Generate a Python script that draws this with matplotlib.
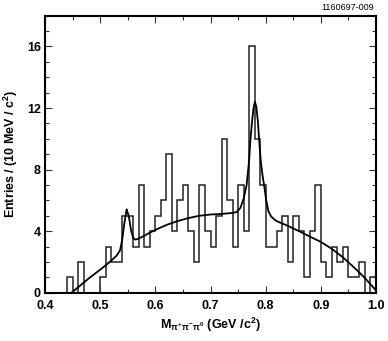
import matplotlib
matplotlib.use("Agg")
import matplotlib.pyplot as plt
from matplotlib.ticker import MultipleLocator

# Histogram: 10 MeV bins from 0.44 to 1.00 GeV
bin_edges = [round(0.44 + 0.01 * i, 2) for i in range(57)]
counts = [1, 0, 2, 0, 0, 0, 1, 3, 2, 2, 5, 5, 3, 7, 3, 4, 5, 6, 9, 4,
          6, 7, 4, 2, 7, 4, 3, 5, 10, 6, 3, 7, 4, 16, 10, 7, 3, 3, 4, 5,
          2, 5, 4, 1, 4, 7, 2, 1, 3, 2, 3, 1, 1, 2, 0, 1]

# Fit curve
fit_x = [0.448, 0.46, 0.47, 0.48, 0.49, 0.50, 0.51, 0.52, 0.53, 0.536,
         0.540, 0.544, 0.548, 0.552, 0.556, 0.560, 0.564, 0.57, 0.58, 0.59,
         0.60, 0.62, 0.64, 0.66, 0.68, 0.70, 0.72, 0.74, 0.748, 0.754,
         0.760, 0.7655, 0.770, 0.7723, 0.775, 0.778, 0.7805, 0.783, 0.786, 0.788,
         0.791, 0.794, 0.7975, 0.801, 0.805, 0.810, 0.815, 0.82, 0.84, 0.862,
         0.88, 0.90, 0.92, 0.94, 0.96, 0.98, 0.99, 1.0]
fit_y = [0.0, 0.35, 0.65, 0.95, 1.22, 1.5, 1.78, 2.08, 2.42, 2.75,
         3.45, 4.55, 5.42, 4.95, 4.05, 3.55, 3.45, 3.52, 3.7, 3.9,
         4.08, 4.4, 4.65, 4.85, 5.0, 5.08, 5.12, 5.18, 5.25, 5.5,
         6.1, 7.0, 8.6, 9.9, 11.0, 12.0, 12.4, 12.1, 11.1, 10.0,
         8.6, 7.7, 6.9, 6.0, 5.3, 4.95, 4.78, 4.65, 4.35, 3.97,
         3.65, 3.3, 2.85, 2.3, 1.65, 0.95, 0.55, 0.15]

x_ticks = [0.4, 0.5, 0.6, 0.7, 0.8, 0.9, 1.0]
x_ticklabels = ["0.4", "0.5", "0.6", "0.7", "0.8", "0.9", "1.0"]
y_ticks = [0, 4, 8, 12, 16]
y_ticklabels = ["0", "4", "8", "12", "16"]

plt.rcParams['font.family'] = ['Liberation Sans', 'DejaVu Sans']
plt.rcParams['mathtext.fontset'] = 'custom'
plt.rcParams['mathtext.rm'] = 'Liberation Sans:bold'
plt.rcParams['mathtext.it'] = 'Liberation Sans:bold'
plt.rcParams['mathtext.bf'] = 'Liberation Sans:bold'

fig = plt.figure(figsize=(3.88, 3.41), dpi=100)
ax = fig.add_axes([45 / 388, 1 - 292.7 / 341, 331 / 388, 277 / 341])

ax.stairs(counts, bin_edges, color='#222222', linewidth=1.1, baseline=0)
ax.plot(fit_x, fit_y, color='black', linewidth=1.3)

ax.set_xlim(0.4, 1.0)
ax.set_ylim(0, 18)
ax.set_xticks(x_ticks)
ax.set_xticklabels(x_ticklabels, fontsize=9, fontweight='bold')
ax.set_yticks(y_ticks)
ax.set_yticklabels(y_ticklabels, fontsize=9, fontweight='bold')
ax.xaxis.set_minor_locator(MultipleLocator(0.05))
ax.yaxis.set_minor_locator(MultipleLocator(1))
ax.tick_params(which='both', direction='in', top=True, right=True, width=0.8, colors='#333333', labelcolor='black')
ax.tick_params(which='major', length=5)
ax.tick_params(which='minor', length=3)
ax.tick_params(axis='x', which='major', pad=5)
ax.tick_params(axis='y', which='major', pad=3)
for sp in ax.spines.values():
    sp.set_linewidth(1.5)

ax.set_xlabel(r'M$_{\pi^{+}\pi^{-}\pi^{0}}$ (GeV /c$^{2}$)', fontsize=9, fontweight='bold', labelpad=3)
ax.set_ylabel(r'Entries / (10 MeV / c$^{2}$)', fontsize=9, fontweight='bold', labelpad=5)

fig.text(374 / 388, 1 - 8 / 341, '1160697-009', fontsize=6.5, ha='right', va='center')

fig.savefig('out.png', dpi=100)
